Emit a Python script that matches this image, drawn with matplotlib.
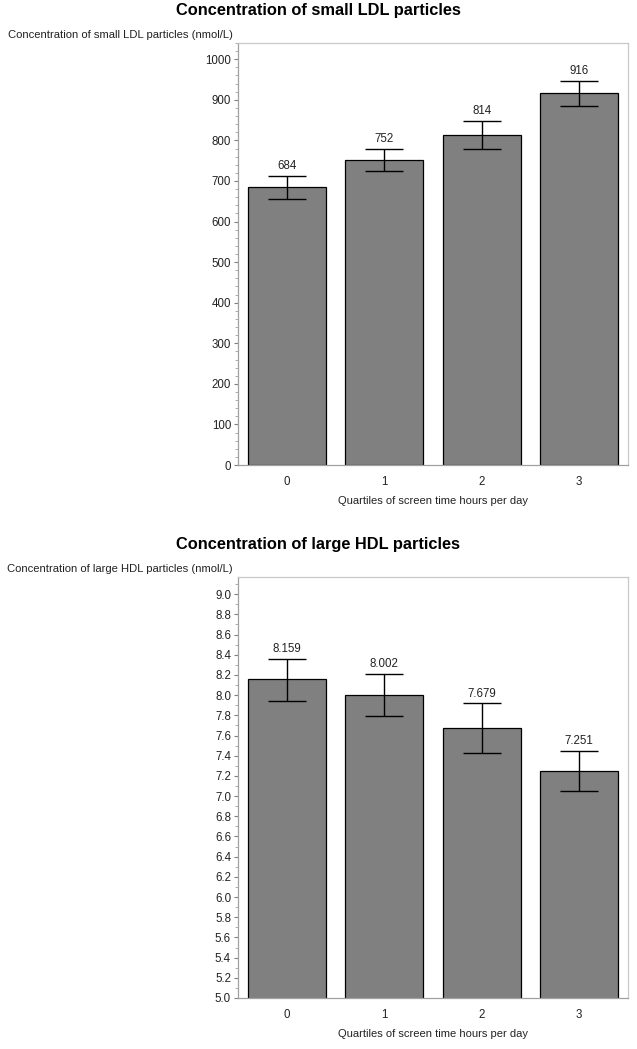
import matplotlib.pyplot as plt
from matplotlib.ticker import MultipleLocator
import numpy as np

plt.rcParams['font.family'] = ['Liberation Sans', 'DejaVu Sans']

# data
quartiles = ['0', '1', '2', '3']
ldl_mean = [684, 752, 814, 916]
ldl_low = [655, 725, 780, 885]
ldl_high = [713, 779, 848, 947]
ldl_labels = ['684', '752', '814', '916']

hdl_mean = [8.159, 8.002, 7.679, 7.251]
hdl_low = [7.945, 7.79, 7.43, 7.05]
hdl_high = [8.36, 8.21, 7.92, 7.45]
hdl_labels = ['8.159', '8.002', '7.679', '7.251']

W, H = 637, 1049
fig = plt.figure(figsize=(W / 100, H / 100), dpi=100)


def px_axes(left, top, right, bottom):
    return fig.add_axes([left / W, 1 - bottom / H, (right - left) / W, (bottom - top) / H])


def draw_panel(ax, title, ylabel, means, low, high, labels, ylim, major, minor, fmt, top_px):
    x = np.arange(len(quartiles))
    ax.bar(x, means, width=0.8, color='#808080', edgecolor='black', linewidth=0.9, zorder=2)
    m = np.array(means)
    yerr = [m - np.array(low), np.array(high) - m]
    ax.errorbar(x, means, yerr=yerr, fmt='none', ecolor='black', elinewidth=1,
                capsize=14, capthick=1, zorder=3)
    for xi, hi, lab in zip(x, high, labels):
        ax.annotate(lab, (xi, hi), xytext=(0, 2.5), textcoords='offset points',
                    ha='center', va='bottom', fontsize=8.3, color='#222222')
    ax.set_xlim(-0.5, 3.5)
    ax.set_ylim(*ylim)
    ax.set_xticks(x)
    ax.set_xticklabels(quartiles)
    ax.yaxis.set_major_locator(MultipleLocator(major))
    ax.yaxis.set_minor_locator(MultipleLocator(minor))
    ax.yaxis.set_major_formatter(fmt)
    ax.tick_params(axis='both', labelsize=8.3, color='#808080', length=3, width=0.8,
                   labelcolor='#222222', pad=2)
    ax.tick_params(axis='y', which='minor', length=2, color='#a0a0a0', width=0.6)
    ax.tick_params(axis='x', length=0, pad=8)
    for s in ['top', 'right']:
        ax.spines[s].set_color('#c8c8c8')
    for s in ['left', 'bottom']:
        ax.spines[s].set_color('#a0a0a0')
    for s in ax.spines.values():
        s.set_linewidth(0.9)
    ax.set_xlabel('Quartiles of screen time hours per day', fontsize=8,
                  color='#222222', labelpad=6)
    fig.text(0.5, 1 - (top_px - 32) / H, title, ha='center', va='center',
             fontsize=11.8, fontweight='bold')
    fig.text(233 / W, 1 - (top_px - 8) / H, ylabel, ha='right', va='center',
             fontsize=8.1, color='#222222')


ax1 = px_axes(238, 43, 628, 465)
draw_panel(ax1, 'Concentration of small LDL particles',
           'Concentration of small LDL particles (nmol/L)',
           ldl_mean, ldl_low, ldl_high, ldl_labels, (0, 1040), 100, 20, '{x:.0f}', 43)

ax2 = px_axes(238, 577, 628, 998)
draw_panel(ax2, 'Concentration of large HDL particles',
           'Concentration of large HDL particles (nmol/L)',
           hdl_mean, hdl_low, hdl_high, hdl_labels, (5.0, 9.17), 0.2, 0.1, '{x:.1f}', 577)

fig.savefig('out.png', dpi=100)
